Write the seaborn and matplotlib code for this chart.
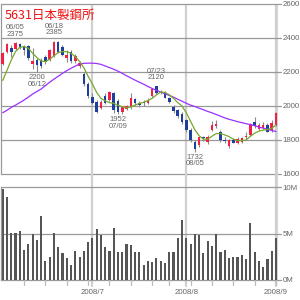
import matplotlib
matplotlib.use('Agg')
import matplotlib.pyplot as plt
import seaborn as sns
import numpy as np

sns.set_style('white')
plt.rcParams['font.family'] = ['Liberation Sans', 'DejaVu Sans']

# daily data, 2008/06/02 .. 2008/09/01 (trading days)
opens = [2250, 2320, 2340, 2335, 2365, 2345, 2350, 2250, 2270, 2270,
         2290, 2270, 2295, 2375, 2345, 2285, 2320, 2262, 2235, 2190,
         2130, 2055, 2025, 1990, 2060, 2035, 2075, 2030, 1962, 1985,
         1995, 2040, 2015, 2025, 2020, 2060, 2115, 2080, 2080, 2050,
         1995, 1975, 1950, 1920, 1860, 1790, 1770, 1815, 1790, 1860,
         1880, 1850, 1800, 1765, 1800, 1780, 1790, 1815, 1830, 1905,
         1865, 1870, 1890, 1860, 1890]
highs = [2320, 2372, 2360, 2375, 2370, 2360, 2360, 2340, 2285, 2280,
         2300, 2335, 2385, 2380, 2360, 2330, 2330, 2305, 2265, 2200,
         2140, 2075, 2035, 2035, 2075, 2088, 2080, 2040, 2000, 2005,
         2075, 2050, 2030, 2035, 2045, 2105, 2120, 2095, 2090, 2055,
         2005, 1985, 1965, 1925, 1870, 1800, 1820, 1825, 1830, 1910,
         1915, 1860, 1820, 1805, 1810, 1815, 1820, 1845, 1900, 1935,
         1900, 1905, 1900, 1915, 1965]
lows = [2240, 2310, 2290, 2330, 2335, 2300, 2270, 2215, 2200, 2225,
        2250, 2262, 2290, 2310, 2295, 2260, 2255, 2255, 2225, 2115,
        2050, 2010, 1958, 1985, 2010, 2030, 1960, 1952, 1955, 1975,
        1985, 2005, 1995, 2000, 2010, 2055, 2070, 2070, 2045, 2015,
        1960, 1930, 1895, 1850, 1790, 1732, 1760, 1795, 1775, 1855,
        1870, 1790, 1780, 1755, 1780, 1775, 1780, 1805, 1825, 1870,
        1860, 1865, 1845, 1850, 1885]
closes = [2310, 2365, 2315, 2368, 2345, 2330, 2280, 2262, 2240, 2235,
          2258, 2330, 2378, 2320, 2300, 2300, 2265, 2295, 2255, 2130,
          2060, 2020, 1962, 2025, 2020, 2082, 1975, 1965, 1992, 2000,
          2045, 2015, 2005, 2015, 2030, 2100, 2075, 2085, 2050, 2025,
          1968, 1940, 1905, 1860, 1800, 1750, 1815, 1810, 1815, 1890,
          1895, 1800, 1795, 1800, 1785, 1805, 1810, 1825, 1895, 1885,
          1890, 1890, 1850, 1900, 1960]
volume_m = [9.75, 8.9, 5.1, 5.1, 5.25, 3.2, 3.85, 5.0, 4.3, 6.9,
            2.0, 2.5, 5.1, 3.5, 2.9, 2.35, 1.6, 3.1, 2.5, 3.1,
            4.1, 4.5, 5.5, 4.8, 3.6, 3.1, 5.6, 3.0, 3.0, 3.85,
            3.75, 3.0, 3.0, 1.6, 2.0, 1.9, 2.35, 2.0, 1.8, 3.0,
            3.0, 4.5, 6.5, 4.5, 3.85, 5.0, 4.8, 2.9, 4.2, 3.65,
            5.0, 3.0, 3.2, 2.35, 2.45, 2.45, 2.7, 2.25, 6.1, 3.0,
            2.0, 1.4, 2.25, 3.1, 4.5]
ma_short = [2150, 2210, 2270, 2320, 2345, 2350, 2340, 2310, 2285, 2265,
            2262, 2275, 2295, 2315, 2320, 2320, 2310, 2290, 2262, 2225,
            2175, 2130, 2080, 2045, 2030, 2020, 2015, 2005, 1995, 1990,
            1995, 2005, 2015, 2022, 2032, 2045, 2065, 2082, 2080, 2066,
            2045, 2020, 2000, 1960, 1910, 1860, 1825, 1805, 1805, 1822,
            1838, 1838, 1830, 1820, 1805, 1797, 1796, 1800, 1822, 1840,
            1852, 1858, 1862, 1868, 1890]
ma_long = [1960, 1975, 1992, 2005, 2020, 2035, 2052, 2070, 2085, 2100,
           2120, 2140, 2158, 2175, 2192, 2208, 2222, 2235, 2247, 2251,
           2252, 2252, 2250, 2245, 2235, 2226, 2216, 2205, 2192, 2178,
           2165, 2152, 2140, 2128, 2115, 2103, 2092, 2082, 2072, 2062,
           2052, 2040, 2028, 2016, 2005, 1997, 1987, 1978, 1968, 1960,
           1950, 1940, 1930, 1922, 1915, 1908, 1902, 1896, 1890, 1884,
           1876, 1870, 1863, 1856, 1850]

month_idx = [21, 43, 64]
month_labels = ['2008/7', '2008/8', '2008/9']
week_idx = [5, 10, 15, 20, 25, 30, 35, 39, 44, 49, 54, 59, 64]

ann_idx = [3, 12, 8, 27, 36, 45]
ann_date = ['06/05', '06/18', '06/12', '07/09', '07/23', '08/05']
ann_value = [2375, 2385, 2200, 1952, 2120, 1732]
ann_is_high = [True, True, False, False, True, False]

price_ticks = [1600, 1800, 2000, 2200, 2400, 2600]
vol_ticks = [0, 5, 10]
vol_tick_labels = ['0M', '5M', '10M']

idx = np.arange(len(closes))
o = np.array(opens)
c = np.array(closes)
up = c >= o

RED = '#f51f45'
BLUE = '#1f3f9f'
GRID = '#999999'
LIGHT = '#d0d0d0'
TXT = '#666666'

fig = plt.figure(figsize=(3, 3), dpi=100)
ax_p = fig.add_axes([1/300, 126/300, 280/300, 170/300])
ax_v = fig.add_axes([1/300, 20/300, 280/300, 93/300])

x0 = -0.40
x1 = x0 + 280 / 4.27
frame_x = (277 - 2.7) / 4.27

# price panel
for y in price_ticks:
    ax_p.axhline(y, color=GRID, lw=0.9, zorder=1, clip_on=False)
for m in month_idx:
    ax_p.axvline(m, color=LIGHT, lw=1.6, zorder=0)
ax_p.axvline(frame_x, color=LIGHT, lw=1.2, zorder=0)

ax_p.vlines(idx, lows, highs, color='#8a8a8a', lw=0.8, zorder=2)
body = np.maximum(np.abs(c - o), 4)
ax_p.bar(idx, body, bottom=np.minimum(o, c), width=0.6,
         color=np.where(up, RED, BLUE), zorder=3, linewidth=0)

sns.lineplot(x=idx, y=ma_long, ax=ax_p, color='#9b30ff', lw=0.9, zorder=4)
sns.lineplot(x=idx, y=ma_short, ax=ax_p, color='#78a82a', lw=0.9, zorder=4)

for i, d, v, hi in zip(ann_idx, ann_date, ann_value, ann_is_high):
    if hi:
        ax_p.annotate(f'{d}\n{v}', (i, v), xytext=(0, 3), textcoords='offset points',
                      ha='center', va='bottom', fontsize=5.5, color=TXT, linespacing=0.95)
    else:
        ax_p.annotate(f'{v}\n{d}', (i, v), xytext=(0, -1.5), textcoords='offset points',
                      ha='center', va='top', fontsize=5.5, color=TXT, linespacing=0.95)

ax_p.set_xlim(x0, x1)
ax_p.set_ylim(1600, 2600)
ax_p.set_xticks([])
ax_p.set_yticks(price_ticks)
ax_p.yaxis.tick_right()
ax_p.tick_params(axis='y', length=0, pad=1, labelsize=5.7, labelcolor=TXT)
ax_p.set_xlabel('')
ax_p.set_ylabel('')
for s in ['top', 'right', 'bottom']:
    ax_p.spines[s].set_visible(False)
ax_p.spines['left'].set_color(GRID)
ax_p.spines['left'].set_linewidth(0.9)

# volume panel
for y in vol_ticks:
    ax_v.axhline(y, color=GRID, lw=0.9, zorder=1, clip_on=False)
for m in month_idx:
    ax_v.axvline(m, ymin=-6/93, ymax=1 + 13/93, color=LIGHT, lw=1.6, zorder=0, clip_on=False)
ax_v.axvline(frame_x, ymin=0, ymax=1 + 13/93, color=LIGHT, lw=1.2, zorder=0, clip_on=False)
for w in week_idx:
    ax_v.axvline(w, ymin=-5/93, ymax=0, color='#bbbbbb', lw=0.9, clip_on=False)

sns.barplot(x=idx, y=volume_m, ax=ax_v, native_scale=True, color='#555555',
            saturation=1, width=0.5, errorbar=None, zorder=2,
            linewidth=0, antialiased=False)

for m, lab in zip(month_idx, month_labels):
    ax_v.text(m, -13/93, lab, transform=ax_v.get_xaxis_transform(),
              ha='center', va='center', fontsize=5.7, color=TXT)

ax_v.set_xlim(x0, x1)
ax_v.set_ylim(0, 10)
ax_v.set_xticks([])
ax_v.set_yticks(vol_ticks)
ax_v.set_yticklabels(vol_tick_labels)
ax_v.yaxis.tick_right()
ax_v.tick_params(axis='y', length=0, pad=1, labelsize=5.7, labelcolor=TXT)
ax_v.set_xlabel('')
ax_v.set_ylabel('')
for s in ['top', 'right', 'bottom']:
    ax_v.spines[s].set_visible(False)
ax_v.spines['left'].set_color(GRID)
ax_v.spines['left'].set_linewidth(0.9)

fig.text(5/300, 1 - 15/300, '5631日本製鋼所', color='#ee1111', fontsize=9,
         family=['Noto Sans CJK JP', 'DejaVu Sans'], va='center', ha='left')

fig.savefig('out.png', dpi=100)
